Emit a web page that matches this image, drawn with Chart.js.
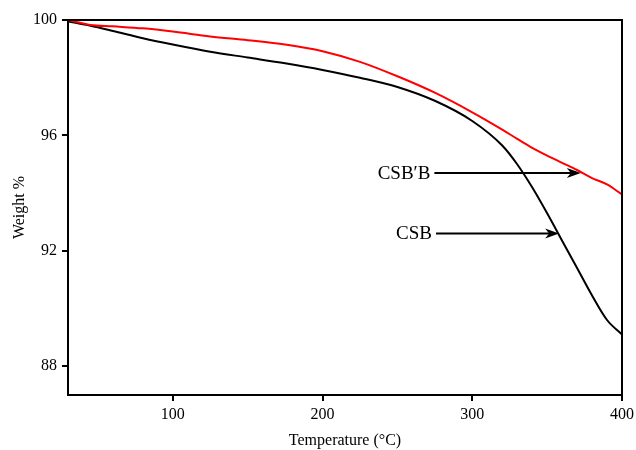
<!DOCTYPE html>
<html>
<head>
<meta charset="utf-8">
<script src="https://cdn.jsdelivr.net/npm/chart.js@4"></script>
<style>
  body { margin: 0; background: #fff; }
  #wrap { width: 636px; height: 450px; }
</style>
</head>
<body>
<div id="wrap"><canvas id="tga" width="636" height="450"></canvas></div>
<script>
// temperature (°C) and weight (%)
const temps = [30, 45, 60, 80, 100, 125, 150, 175, 200, 225, 250, 275, 300, 320, 330, 340, 350, 360, 370, 380, 390, 400];
const csbPrimeB = [100.0, 99.83, 99.78, 99.71, 99.6, 99.43, 99.3, 99.15, 98.92, 98.55, 98.05, 97.48, 96.8, 96.2, 95.88, 95.57, 95.3, 95.05, 94.8, 94.52, 94.3, 93.95];
const csb = [99.95, 99.8, 99.62, 99.37, 99.15, 98.9, 98.7, 98.5, 98.27, 98.0, 97.68, 97.2, 96.5, 95.65, 95.0, 94.2, 93.3, 92.35, 91.4, 90.45, 89.6, 89.1];
const xTicks = [100, 200, 300, 400];
const yTicks = [88, 92, 96, 100];

// labelled arrows, in data units
const arrows = [
  { text: 'CSB\u2032B', y: 94.7, from: 274.7, to: 372.5 },
  { text: 'CSB', y: 92.6, from: 275.8, to: 358 }
];

const serif = '"Liberation Serif", "Times New Roman", serif';

const pairs = (ys) => temps.map((t, i) => ({ x: t, y: ys[i] }));

const frame = {
  id: 'frame',
  afterDatasetsDraw(chart) {
    const { ctx, chartArea: a, scales: { x, y } } = chart;
    ctx.save();
    ctx.strokeStyle = '#000';
    ctx.lineWidth = 2;
    ctx.strokeRect(a.left, a.top, a.right - a.left, a.bottom - a.top);

    ctx.fillStyle = '#000';
    ctx.font = '19px ' + serif;
    ctx.textAlign = 'right';
    ctx.textBaseline = 'middle';
    arrows.forEach(ar => {
      const py = y.getPixelForValue(ar.y);
      const x0 = x.getPixelForValue(ar.from);
      const x1 = x.getPixelForValue(ar.to);
      ctx.fillText(ar.text, x0 - 4, py + 1);
      ctx.beginPath();
      ctx.moveTo(x0, py);
      ctx.lineTo(x1 - 6, py);
      ctx.stroke();
      ctx.beginPath();
      ctx.moveTo(x1, py);
      ctx.lineTo(x1 - 14, py - 5);
      ctx.lineTo(x1 - 10, py);
      ctx.lineTo(x1 - 14, py + 5);
      ctx.closePath();
      ctx.fill();
    });
    ctx.restore();
  }
};

new Chart(document.getElementById('tga'), {
  type: 'line',
  data: {
    datasets: [
      {
        label: 'CSB\u2032B',
        data: pairs(csbPrimeB),
        borderColor: '#ff0000',
        borderWidth: 2,
        pointRadius: 0,
        cubicInterpolationMode: 'monotone'
      },
      {
        label: 'CSB',
        data: pairs(csb),
        borderColor: '#000000',
        borderWidth: 2,
        pointRadius: 0,
        cubicInterpolationMode: 'monotone'
      }
    ]
  },
  options: {
    responsive: false,
    animation: false,
    layout: { padding: { top: 20, right: 14, left: 0, bottom: 0 } },
    plugins: { legend: { display: false }, tooltip: { enabled: false } },
    scales: {
      x: {
        type: 'linear',
        min: 30,
        max: 400,
        afterBuildTicks: s => { s.ticks = xTicks.map(v => ({ value: v })); },
        afterFit: s => { s.height = 55; s.paddingLeft = 0; s.paddingRight = 0; },
        grid: { drawOnChartArea: false, drawTicks: true, tickLength: 6, color: '#000', lineWidth: 2 },
        border: { display: true, color: '#000', width: 2 },
        ticks: { color: '#000', padding: 4, font: { family: serif, size: 16 }, maxRotation: 0 },
        title: { display: true, text: 'Temperature (\u00b0C)', color: '#000', font: { family: serif, size: 16 }, padding: 0 }
      },
      y: {
        min: 87,
        max: 100,
        afterBuildTicks: s => { s.ticks = yTicks.map(v => ({ value: v })); },
        afterFit: s => { s.width = 68; s.paddingTop = 0; s.paddingBottom = 0; },
        grid: { drawOnChartArea: false, drawTicks: true, tickLength: 6, color: '#000', lineWidth: 2 },
        border: { display: true, color: '#000', width: 2 },
        ticks: { color: '#000', padding: 5, font: { family: serif, size: 16 } },
        title: { display: true, text: 'Weight %', color: '#000', font: { family: serif, size: 16 }, padding: { top: 10, bottom: 0 } }
      }
    }
  },
  plugins: [frame]
});
</script>
</body>
</html>
